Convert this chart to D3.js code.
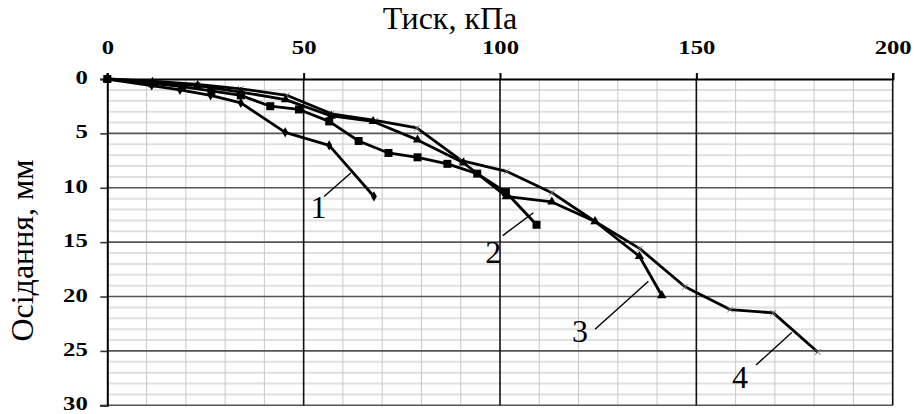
<!DOCTYPE html>
<html>
<head>
<meta charset="utf-8">
<script src="https://cdn.jsdelivr.net/npm/d3@7"></script>
<style>
body { margin: 0; background: #fff; }
svg { display: block; }
</style>
</head>
<body>
<svg></svg>
<script>
// curve data: pressure (kPa), settlement (mm)
var curve1 = [[0,0],[11.3,0.6],[18.5,1.0],[26.3,1.5],[34,2.2],[45.3,4.9],[56.5,6.1],[67.9,10.8]]
var curve2 = [[0,0],[11.5,0.4],[19,0.7],[26.5,1.1],[34,1.5],[41.5,2.5],[48.8,2.8],[56.5,3.9],[64,5.7],
              [71.6,6.8],[79,7.2],[86.6,7.8],[94.2,8.7],[101.5,10.4],[109.3,13.4]]
var curve3 = [[0,0],[11.5,0.3],[23,0.6],[34,1.2],[45.4,1.9],[57,3.4],[67.7,3.9],[79,5.6],[90.7,7.7],
              [101.6,10.8],[113.2,11.3],[124.2,13.1],[135.5,16.3],[141.2,19.9]]
var curve4 = [[0,0],[11.5,0.2],[23,0.5],[34,0.9],[45.7,1.5],[57.1,3.2],[68.2,3.8],[78.8,4.5],[90.2,7.5],
              [101.7,8.5],[113.2,10.45],[124.2,13.1],[135.6,15.6],[147.1,19.1],[158.6,21.2],[169.6,21.5],[180.9,25.1]]

var xTicks = [0, 50, 100, 150, 200]
var yTicks = [0, 5, 10, 15, 20, 25, 30]

// number labels with leader lines: [text, labelX, labelY, lineX1, lineY1, lineX2, lineY2]
var labels = [
    ["1", 53.8, 11.8, 55.2, 10.8, 62, 8.65],
    ["2", 98.3, 15.9, 100.7, 14.4, 108.5, 12.3],
    ["3", 120.4, 23.2, 124.2, 23.0, 137.8, 18.6],
    ["4", 161.1, 27.4, 165.2, 26.3, 174.3, 23.3]
]

var screen = {width: 915, height: 414}
var margins = {top: 79, right: 22.3, bottom: 8.7, left: 107.3}
var width = screen.width - margins.left - margins.right
var height = screen.height - margins.top - margins.bottom
var serif = "'Liberation Serif', 'Times New Roman', serif"

var svg = d3.select("svg")
    .attr("width", screen.width)
    .attr("height", screen.height)

var xScale = d3.scaleLinear().domain([0, 200]).range([0, width])
var yScale = d3.scaleLinear().domain([0, 30]).range([0, height])

var graph = svg.append("g")
    .attr("transform", "translate(" + margins.left + "," + margins.top + ")")

// minor horizontal grid (every 1 mm)
graph.append("g").selectAll("line")
    .data(d3.range(1, 30).filter(function(d){return d % 5 != 0}))
    .enter().append("line")
    .attr("x1", 0).attr("x2", width)
    .attr("y1", function(d){return yScale(d)})
    .attr("y2", function(d){return yScale(d)})
    .attr("stroke", "#e0e0e0").attr("stroke-width", 2)

// minor vertical grid (every 10 kPa)
graph.append("g").selectAll("line")
    .data(d3.range(10, 200, 10).filter(function(d){return d % 50 != 0}))
    .enter().append("line")
    .attr("y1", 0).attr("y2", height)
    .attr("x1", function(d){return xScale(d)})
    .attr("x2", function(d){return xScale(d)})
    .attr("stroke", "#c8c8c8").attr("stroke-width", 1)

// major horizontal grid
graph.append("g").selectAll("line")
    .data(yTicks.slice(1))
    .enter().append("line")
    .attr("x1", 0).attr("x2", width)
    .attr("y1", function(d){return yScale(d)})
    .attr("y2", function(d){return yScale(d)})
    .attr("stroke", "#555").attr("stroke-width", 1.6)

// major vertical grid
graph.append("g").selectAll("line")
    .data(xTicks.slice(1))
    .enter().append("line")
    .attr("y1", 0).attr("y2", height)
    .attr("x1", function(d){return xScale(d)})
    .attr("x2", function(d){return xScale(d)})
    .attr("stroke", "#111").attr("stroke-width", 1.6)

// axes
var xAxis = d3.axisTop(xScale).tickValues(xTicks).tickSize(6)
var yAxis = d3.axisLeft(yScale).tickValues(yTicks).tickSize(7)

var gx = graph.append("g").call(xAxis)
var gy = graph.append("g").call(yAxis)

gx.select(".domain").attr("stroke", "#000").attr("stroke-width", 2.2)
gy.select(".domain").attr("stroke", "#000").attr("stroke-width", 2)
gx.selectAll(".tick line").attr("stroke", "#000").attr("stroke-width", 2)
gy.selectAll(".tick line").attr("stroke", "#333").attr("stroke-width", 1.6)

// the reference uses a wide bold face for tick numbers
gx.selectAll(".tick text")
    .attr("y", null).attr("dy", null)
    .attr("transform", "translate(0,-25.5) scale(1.3,1)")
gy.selectAll(".tick text")
    .attr("x", null).attr("dy", null)
    .attr("transform", "translate(-19.5,4.5) scale(1.3,1)")
svg.selectAll(".tick text")
    .attr("font-family", serif)
    .attr("font-size", 19)
    .attr("font-weight", "bold")
    .attr("fill", "#000")

// axis titles
svg.append("text")
    .attr("x", 450).attr("y", 29)
    .attr("text-anchor", "middle")
    .attr("font-family", serif)
    .attr("font-size", 32)
    .text("Тиск, кПа")

svg.append("text")
    .attr("transform", "translate(33,250.5)rotate(-90)")
    .attr("text-anchor", "middle")
    .attr("font-family", serif)
    .attr("font-size", 32)
    .text("Осідання, мм")

var lineGenerator = d3.line()
    .x(function(d){return xScale(d[0])})
    .y(function(d){return yScale(d[1])})

var drawCurve = function(data, marker)
{
    var g = graph.append("g")
    g.append("path")
        .datum(data)
        .attr("d", lineGenerator)
        .attr("fill", "none")
        .attr("stroke", "#000")
        .attr("stroke-width", 2.8)
        .attr("stroke-linejoin", "round")

    var pts = g.selectAll("path.pt")
        .data(data)
        .enter().append("path")
        .attr("class", "pt")
        .attr("transform", function(d){return "translate(" + xScale(d[0]) + "," + yScale(d[1]) + ")"})
    if (marker == "x") {
        pts.attr("d", d3.symbol().type(d3.symbolX).size(24))
            .attr("stroke", "#777").attr("stroke-width", 1).attr("fill", "none")
    } else {
        var type = {diamond: d3.symbolDiamond, square: d3.symbolSquare, triangle: d3.symbolTriangle}[marker]
        var size = {diamond: 30, square: 64, triangle: 38}[marker]
        pts.attr("d", d3.symbol().type(type).size(size)).attr("fill", "#000")
    }
}

drawCurve(curve4, "x")
drawCurve(curve3, "triangle")
drawCurve(curve2, "square")
drawCurve(curve1, "diamond")

// number labels
var lab = graph.append("g").selectAll("g")
    .data(labels)
    .enter().append("g")

lab.append("line")
    .attr("x1", function(d){return xScale(d[3])})
    .attr("y1", function(d){return yScale(d[4])})
    .attr("x2", function(d){return xScale(d[5])})
    .attr("y2", function(d){return yScale(d[6])})
    .attr("stroke", "#000").attr("stroke-width", 1.4)

lab.append("text")
    .attr("x", function(d){return xScale(d[1])})
    .attr("y", function(d){return yScale(d[2])})
    .attr("text-anchor", "middle")
    .attr("dominant-baseline", "central")
    .attr("font-family", serif)
    .attr("font-size", 32)
    .text(function(d){return d[0]})
</script>
</body>
</html>
